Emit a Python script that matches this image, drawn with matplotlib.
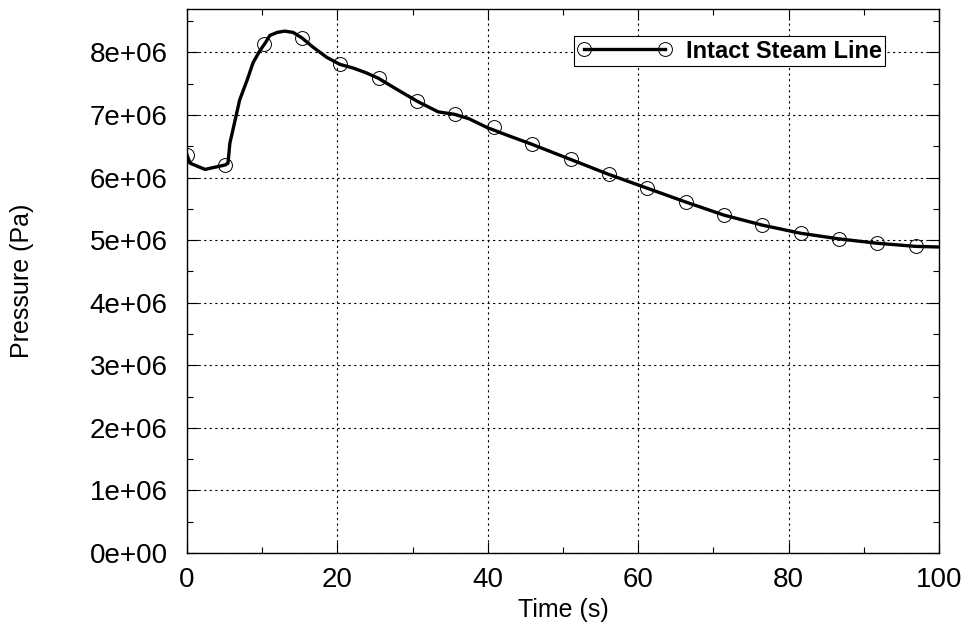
import numpy as np
import matplotlib.pyplot as plt
from matplotlib.ticker import MultipleLocator, FormatStrFormatter

plt.rcParams['font.family'] = ['Liberation Sans', 'DejaVu Sans']

# pressure trace (time in s, pressure in Pa)
time = [0.0, 0.4, 1.2, 2.4, 3.5, 5.05, 5.45, 5.7, 6.1, 7.0, 8.0, 8.8, 9.7, 10.4,
        11.0, 12.0, 13.0, 14.1, 15.3, 16.8, 18.6, 20.3, 22.1, 23.7, 25.4, 27.9,
        30.6, 33.4, 35.6, 37.5, 39.9, 42.5, 45.9, 51.0, 56.1, 61.2, 66.3, 71.4,
        76.5, 81.6, 86.7, 91.8, 96.9, 100.0]
pressure = [6.36e6, 6.23e6, 6.19e6, 6.13e6, 6.16e6, 6.20e6, 6.23e6, 6.55e6,
            6.76e6, 7.24e6, 7.56e6, 7.84e6, 8.03e6, 8.15e6, 8.27e6, 8.32e6,
            8.34e6, 8.32e6, 8.23e6, 8.08e6, 7.92e6, 7.81e6, 7.75e6, 7.68e6,
            7.59e6, 7.41e6, 7.22e6, 7.05e6, 7.01e6, 6.94e6, 6.80e6, 6.68e6,
            6.53e6, 6.29e6, 6.05e6, 5.83e6, 5.61e6, 5.40e6, 5.24e6, 5.11e6,
            5.02e6, 4.95e6, 4.90e6, 4.89e6]

# open circle markers every ~5 s
marker_time = [0.0, 5.1, 10.2, 15.3, 20.4, 25.5, 30.6, 35.7, 40.8, 45.9, 51.0,
               56.1, 61.2, 66.3, 71.4, 76.5, 81.6, 86.7, 91.8, 96.9]
marker_pressure = [6.36e6, 6.20e6, 8.13e6, 8.23e6, 7.81e6, 7.59e6, 7.22e6,
                   7.01e6, 6.81e6, 6.53e6, 6.29e6, 6.05e6, 5.83e6, 5.61e6,
                   5.40e6, 5.24e6, 5.11e6, 5.02e6, 4.95e6, 4.90e6]

fig = plt.figure(figsize=(9.69, 6.33), dpi=100)
ax = fig.add_axes([0.193, 0.1264, 0.776, 0.860])

ax.plot(time, pressure, color='black', lw=2.4, zorder=3)
ax.plot(marker_time, marker_pressure, ls='none', marker='o', ms=10,
        mfc='none', mec='black', mew=0.7, zorder=4)

# legend proxy: line with circles at both ends
ax.plot([], [], color='black', lw=2.4, marker='o', ms=10, mfc='none',
        mec='black', mew=0.7, label='Intact Steam Line')
leg = ax.legend(loc='upper right', bbox_to_anchor=(0.935, 0.958), numpoints=2,
                fancybox=False, framealpha=1, edgecolor='black', handlelength=4.0,
                handletextpad=0.6, prop={'weight': 'bold', 'size': 17},
                borderpad=0.15, borderaxespad=0.2)
leg.get_frame().set_linewidth(0.8)

ax.set_xlim(0, 100)
ax.set_ylim(0, 8.7e6)
ax.xaxis.set_major_locator(MultipleLocator(20))
ax.xaxis.set_minor_locator(MultipleLocator(10))
ax.yaxis.set_major_locator(MultipleLocator(1e6))
ax.yaxis.set_minor_locator(MultipleLocator(5e5))
ax.yaxis.set_major_formatter(plt.FuncFormatter(lambda v, p: '%.0e' % v))

ax.grid(True, which='major', color='black', ls=(0, (2, 3)), lw=0.8)
ax.tick_params(which='both', direction='in', top=True, right=True,
               labelsize=20, width=0.8)
ax.tick_params(which='major', length=8)
ax.tick_params(axis='y', which='major', pad=14)
ax.tick_params(axis='x', which='major', pad=10)
ax.tick_params(which='minor', length=4)
for s in ax.spines.values():
    s.set_linewidth(1.0)

ax.set_xlabel('Time (s)', fontsize=18, labelpad=4)
ax.set_ylabel('Pressure (Pa)', fontsize=18, labelpad=40)

plt.savefig('out.png', dpi=100)
